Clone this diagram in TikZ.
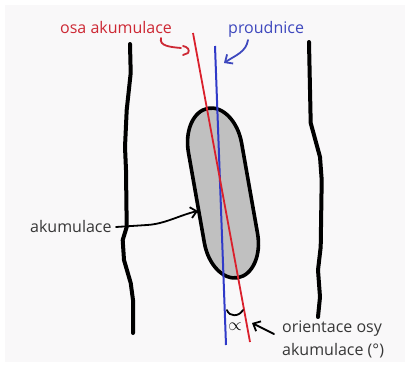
\documentclass[tikz,border=0pt]{standalone}
\usepackage{fontspec}
\setmainfont{Open Sans}
\usetikzlibrary{arrows.meta}
\definecolor{bg}{HTML}{F9F8F9}
\definecolor{redl}{RGB}{218,32,44}
\definecolor{redt}{RGB}{205,40,52}
\definecolor{bluel}{RGB}{48,58,200}
\definecolor{bluet}{RGB}{62,72,190}
\definecolor{txt}{RGB}{55,55,55}
\definecolor{capfill}{RGB}{192,192,192}
\tikzset{
  lbl/.style={font=\fontsize{16}{19}\selectfont, inner sep=0pt, anchor=base west},
  bank/.style={line width=4pt, line cap=round, line join=round},
  hand/.style={line width=1.8pt, line cap=round, line join=round},
  barb/.style={-{Straight Barb[length=6pt,width=11pt,line width=1.8pt]}},
}
\begin{document}
\begin{tikzpicture}[x=1pt,y=-1pt]
\fill[white] (0,0) rectangle (410,367);
\fill[bg] (5,5) rectangle (405,362);
\useasboundingbox (0,0) rectangle (410,367);

% river banks
\draw[bank] (130,44) -- (130.7,73) -- (126.7,110) -- (125,147) -- (126,170) -- (126.7,227)
  -- (122.7,240) -- (124,260) -- (130.7,283) -- (133,300) -- (133,333);
\draw[bank] (309,42) -- (310.7,123) -- (320,157) -- (321.7,180) -- (320.7,247)
  -- (318,270) -- (320,297) -- (318,317);

% accumulation capsule
\begin{scope}[shift={(223,193)}, rotate=10]
\draw[line width=3.6pt, fill=capfill] (27,-46) -- (27,46)
  arc[start angle=0, end angle=180, x radius=27, y radius=40]
  -- (-27,-46)
  arc[start angle=180, end angle=360, x radius=27, y radius=40] -- cycle;
\end{scope}

% lines
\coordinate (bt) at (215,46);
\coordinate (bb) at (226,345);
\coordinate (rt) at (193,33);
\coordinate (rb) at (250,342);
\draw[bluel, line width=2pt] (bt) -- (bb);
\draw[redl, line width=1.8pt] (rt) -- (rb);

% labels
\node[lbl, text=redt] (osa) at (60,33) {osa akumulace};
\node[lbl, text=bluet] (prou) at (228,33) {proudnice};
\node[lbl, text=txt] (akum) at (30,232) {akumulace};
\node[lbl, text=txt] (ori1) at (282,332) {orientace osy};
\node[lbl, text=txt] (ori2) at (282,355) {akumulace (°)};

% red hand arrow
\draw[redt, hand] (161,38) .. controls (159,46) and (170,47) .. (181,48);
\draw[redt, hand] (183,46) .. controls (188,47) and (190,50) .. (188,53) -- (183,55);

% blue hand arrow
\coordinate (bs) at (248,40);
\coordinate (be) at (224,63);
\draw[bluet, hand, barb] (bs) .. controls (246,52) and (236,55) .. (be);

% akumulace arrow
\coordinate (as) at (116,227);
\coordinate (ae) at (198,211);
\draw[black, hand, barb] (as) -- (147,225) .. controls (165,224) and (180,215) .. (ae);

% angle
\draw[black, hand] (227,310) .. controls (229,317) and (239,317) .. (243,310);
\node[inner sep=0pt] (alpha) at (235,327) {\fontsize{17}{17}\selectfont$\propto$};
\coordinate (os) at (274,334);
\coordinate (oe) at (252,323);
\draw[black, hand, barb] (os) -- (oe);
\end{tikzpicture}
\end{document}
